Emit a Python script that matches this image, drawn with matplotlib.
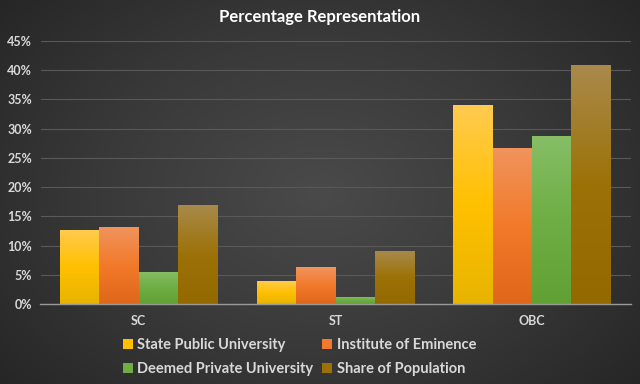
import numpy as np
import matplotlib
matplotlib.use("Agg")
import matplotlib.pyplot as plt
from matplotlib.colors import LinearSegmentedColormap

categories = ["SC", "ST", "OBC"]
series_names = ["State Public University", "Institute of Eminence",
                "Deemed Private University", "Share of Population"]
state_public = [12.7, 3.9, 34.0]
eminence = [13.2, 6.3, 26.7]
deemed = [5.5, 1.2, 28.7]
population = [17.0, 9.1, 40.9]
yticks = [0, 5, 10, 15, 20, 25, 30, 35, 40, 45]

series = [state_public, eminence, deemed, population]
grads = [
    ["#FFCB50", "#FFC000", "#E8B400"],
    ["#F0945E", "#F27A2A", "#E0661A"],
    ["#86BE66", "#6EAE44", "#60A034"],
    ["#A98A4C", "#9C7208", "#946A00"],
]
solid = ["#FFC000", "#F27A2A", "#6EAE44", "#9C7208"]

plt.rcParams['font.family'] = ['Lato', 'DejaVu Sans']
fig = plt.figure(figsize=(6.4, 3.84), dpi=100)

# background radial gradient
bg = fig.add_axes([0, 0, 1, 1], zorder=-10)
yy, xx = np.mgrid[0:384, 0:640]
r = np.sqrt(((xx - 320) / 420.0) ** 2 + ((yy - 192) / 300.0) ** 2)
bgcmap = LinearSegmentedColormap.from_list("bg", ["#4a4a4a", "#3a3a3a", "#262626"])
bg.imshow(r, cmap=bgcmap, vmin=0, vmax=1.0, aspect='auto', extent=[0, 1, 0, 1])
bg.set_axis_off()

ax = fig.add_axes([40.5 / 640, 1 - 304 / 384, 590 / 640, 263 / 384])
ax.patch.set_alpha(0)
x = np.arange(len(categories))
w = 0.2
handles = []
for i, (vals, g) in enumerate(zip(series, grads)):
    cm = LinearSegmentedColormap.from_list("g%d" % i, g[::-1])
    bars = ax.bar(x + (i - 1.5) * w, vals, w, color=solid[i], label=series_names[i],
                  zorder=3, edgecolor="none")
    handles.append(bars)
    for b in bars:
        bx = b.get_x()
        bw, bh = b.get_width(), b.get_height()
        grad = np.linspace(0, 1, 256).reshape(-1, 1)
        im = ax.imshow(grad, cmap=cm, aspect='auto', origin='lower',
                       extent=[bx, bx + bw, 0, bh], zorder=4)
        im.set_clip_path(b)

ax.set_xlim(-0.5, 2.5)
ax.set_ylim(0, 45)
ax.set_yticks(yticks)
ax.set_yticklabels(["%d%%" % t for t in yticks])
ax.set_xticks(x)
ax.set_xticklabels(categories)
ax.grid(axis='y', color='#595959', linewidth=0.8, zorder=0)
ax.set_axisbelow(True)
for s in ["top", "right", "left"]:
    ax.spines[s].set_visible(False)
ax.spines["bottom"].set_color("#9a9a9a")
ax.spines["bottom"].set_linewidth(1.0)
ax.spines["bottom"].set_zorder(5)
ax.tick_params(axis='both', length=0, colors='#d9d9d9', labelsize=9)
ax.tick_params(axis='y', pad=6)
ax.tick_params(axis='x', pad=8)
for lbl in ax.get_xticklabels() + ax.get_yticklabels():
    lbl.set_fontweight('bold')

fig.text(0.5, 1 - 17 / 384, "Percentage Representation", ha='center', va='center',
         color='white', fontsize=12, fontweight='bold')

order = [0, 2, 1, 3]
leg = fig.legend([handles[k] for k in order], [series_names[k] for k in order],
                 loc='center', bbox_to_anchor=(0.468, 1 - 357 / 384), ncol=2,
                 frameon=False, fontsize=10.5, handlelength=0.7, handleheight=0.7,
                 handletextpad=0.3, columnspacing=0.6, labelspacing=0.65)
for t in leg.get_texts():
    t.set_color('#d9d9d9')
    t.set_fontweight('bold')

fig.savefig("out.png", dpi=100, facecolor="#333333")
